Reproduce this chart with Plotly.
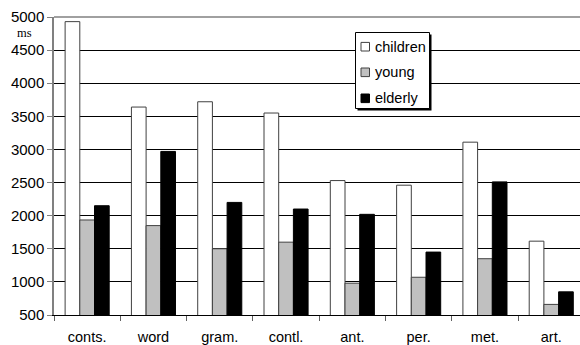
import plotly.graph_objects as go

# Mean response times (ms) per task and age group
categories = ["conts.", "word", "gram.", "contl.", "ant.", "per.", "met.", "art."]
children = [4930, 3640, 3720, 3550, 2530, 2460, 3110, 1615]
young = [1935, 1850, 1500, 1600, 980, 1070, 1350, 660]
elderly = [2150, 2970, 2200, 2100, 2020, 1450, 2510, 850]

series_names = ["children", "young", "elderly"]
series_values = [children, young, elderly]
series_fill = ["#ffffff", "#c0c0c0", "#000000"]
series_edge = ["#404040", "#404040", "#000000"]

y_ticks = [500, 1000, 1500, 2000, 2500, 3000, 3500, 4000, 4500, 5000]

W, H = 580, 345
ML, MR, MT, MB = 54, 0, 17, 30
PW, PH = W - ML - MR, H - MT - MB
FONT = "Liberation Sans, Arial, Helvetica, sans-serif"


def px(x):
    return (x - ML) / PW


def py(y):
    return (H - MB - y) / PH


fig = go.Figure()
for name, vals, fill, edge in zip(series_names, series_values, series_fill, series_edge):
    fig.add_trace(go.Bar(
        x=categories, y=vals, name=name,
        marker=dict(color=fill, line=dict(color=edge, width=1)),
        showlegend=False,
    ))

shapes = []
annotations = []

# top frame line in grey
shapes.append(dict(type="line", xref="paper", yref="paper", x0=0, x1=1, y0=1, y1=1,
                   line=dict(color="#808080", width=1.5), layer="above"))

# legend box with drop shadow
lx0, ly0, lx1, ly1 = 355.5, 32.5, 429.5, 108.5
shapes.append(dict(type="rect", xref="paper", yref="paper",
                   x0=px(lx0 + 2), x1=px(lx1 + 2), y0=py(ly1 + 2), y1=py(ly0 + 2),
                   fillcolor="#000000", line=dict(width=0), layer="above"))
shapes.append(dict(type="rect", xref="paper", yref="paper",
                   x0=px(lx0), x1=px(lx1), y0=py(ly1), y1=py(ly0),
                   fillcolor="#ffffff", line=dict(color="#000000", width=1), layer="above"))
row_y = [46.7, 72.3, 98.3]
for name, fill, edge, ry in zip(series_names, series_fill, series_edge, row_y):
    shapes.append(dict(type="rect", xref="paper", yref="paper",
                       x0=px(361), x1=px(369.5), y0=py(ry + 4.3), y1=py(ry - 4.3),
                       fillcolor=fill, line=dict(color=edge, width=1), layer="above"))
    annotations.append(dict(text=name, xref="paper", yref="paper", x=px(373), y=py(ry),
                            xanchor="left", yanchor="middle", showarrow=False,
                            font=dict(family=FONT, size=14.5, color="#000000")))

# unit label under the top tick
annotations.append(dict(text="ms", xref="paper", yref="paper", x=px(24), y=py(33.5),
                        xanchor="center", yanchor="middle", showarrow=False,
                        font=dict(family="Liberation Serif, Times New Roman, serif", size=12.5,
                                  color="#000000")))

fig.update_layout(
    width=W, height=H,
    margin=dict(l=ML, r=MR, t=MT, b=MB, pad=0),
    paper_bgcolor="#ffffff", plot_bgcolor="#ffffff",
    barmode="group", bargap=0.335, bargroupgap=0,
    font=dict(family=FONT, size=14.5, color="#000000"),
    shapes=shapes, annotations=annotations,
    xaxis=dict(
        type="category", categoryorder="array", categoryarray=categories,
        range=[-0.5, -0.5 + PW / 66.3],
        showgrid=False, showline=True, linecolor="#000000", linewidth=1,
        ticks="outside", tickson="boundaries", ticklen=5, tickcolor="#606060",
        ticklabelstandoff=9,
        tickfont=dict(family=FONT, size=14.5, color="#000000"),
        fixedrange=True,
    ),
    yaxis=dict(
        range=[500, 5000], tickvals=y_ticks,
        showgrid=True, gridcolor="#000000", gridwidth=1,
        showline=True, linecolor="#808080", linewidth=1.5,
        ticks="outside", ticklen=5, tickcolor="#808080",
        tickfont=dict(family=FONT, size=15, color="#000000"),
        zeroline=False, fixedrange=True,
    ),
)

fig.write_html("out.html", config=dict(displayModeBar=False))
